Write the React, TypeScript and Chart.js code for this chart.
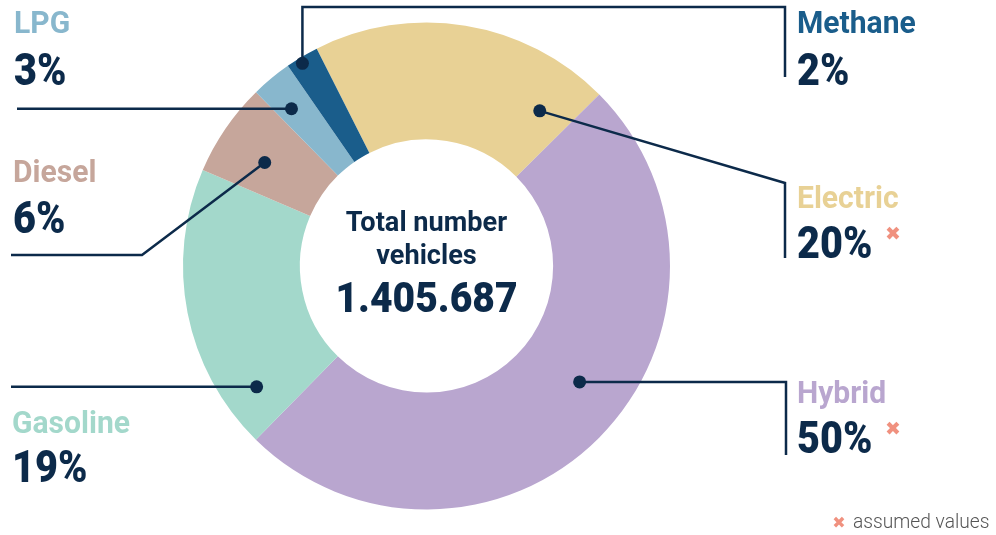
import React, { useEffect, useRef } from "react";
import { Chart, registerables } from "chart.js";

Chart.register(...registerables);

// ---- data ----
const categories = ["Electric", "Hybrid", "Gasoline", "Diesel", "LPG", "Methane"];
const shares = [20.0, 49.8, 19.1, 6.2, 2.7, 2.2];
const assumedFlags = [true, true, false, false, false, false];
const centerLines = ["Total number", "vehicles"];
const totalVehicles = "1.405.687";
const footnote = "assumed values";

// ---- styles ----
const sliceColors = ["#e8d195", "#b9a6cf", "#a3d8cb", "#c6a69b", "#88b7cd", "#1a5d8b"];
const navy = "#0c2a4a";
const starColor = "#f0917f";

// ---- callout layout (positions of labels / leader lines) ----
type Callout = {
  frac: number; rf: number;
  path: Array<[number | null, number | null]>;
  lx: number; nameBase: number; pctBase: number; star?: [number, number];
};
const callouts: Callout[] = [
  { frac: 0.874, rf: 0.56, path: [[785, 183], [785, 258]], lx: 797, nameBase: 208, pctBase: 258, star: [893, 233] },
  { frac: 0.457, rf: 0.56, path: [[786, null], [786, 455]], lx: 797, nameBase: 403, pctBase: 453, star: [893, 428] },
  { frac: 0.147, rf: 0.70, path: [[11, null]], lx: 12, nameBase: 433, pctBase: 482 },
  { frac: 0.42, rf: 0.56, path: [[142, 255], [11, 255]], lx: 13, nameBase: 182, pctBase: 233 },
  { frac: 0.39, rf: 0.69, path: [[17, null]], lx: 14, nameBase: 33, pctBase: 85 },
  { frac: 0.41, rf: 0.95, path: [[null, 7], [785, 7], [785, 77]], lx: 797, nameBase: 33, pctBase: 85 },
];

function drawText(ctx: CanvasRenderingContext2D, text: string, x: number, y: number, font: string, color: string, sx = 1, align: CanvasTextAlign = "left") {
  ctx.save();
  ctx.translate(x, y);
  ctx.scale(sx, 1);
  ctx.font = font;
  ctx.fillStyle = color;
  ctx.textAlign = align;
  ctx.textBaseline = "alphabetic";
  ctx.fillText(text, 0, 0);
  ctx.restore();
}

const calloutPlugin = {
  id: "callouts",
  afterDraw(chart: any) {
    const ctx: CanvasRenderingContext2D = chart.ctx;
    const meta = chart.getDatasetMeta(0);
    const total = shares.reduce((a, b) => a + b, 0);
    let cx = 0;
    meta.data.forEach((arc: any, i: number) => {
      const p = arc.getProps(["x", "y", "startAngle", "endAngle", "innerRadius", "outerRadius"], true);
      cx = p.x;
      const c = callouts[i];
      const ang = p.startAngle + c.frac * (p.endAngle - p.startAngle);
      const r = p.innerRadius + c.rf * (p.outerRadius - p.innerRadius);
      const dx = p.x + Math.cos(ang) * r;
      const dy = p.y + Math.sin(ang) * r;
      ctx.save();
      ctx.strokeStyle = navy;
      ctx.lineWidth = 2.5;
      ctx.lineJoin = "miter";
      ctx.beginPath();
      ctx.moveTo(dx, dy);
      for (const [wx, wy] of c.path) {
        ctx.lineTo(wx === null ? dx : wx, wy === null ? dy : wy);
      }
      ctx.stroke();
      ctx.fillStyle = navy;
      ctx.beginPath();
      ctx.arc(dx, dy, 6.5, 0, Math.PI * 2);
      ctx.fill();
      ctx.restore();

      drawText(ctx, categories[i], c.lx, c.nameBase, "bold 31px Roboto", sliceColors[i], 0.97);
      const pct = Math.round((shares[i] / total) * 100) + "%";
      drawText(ctx, pct, c.lx, c.pctBase, "900 44px Roboto", navy, 0.9);
      if (assumedFlags[i] && c.star) {
        drawText(ctx, "✖", c.star[0], c.star[1] + 7, "bold 19px 'DejaVu Sans'", starColor, 1, "center");
      }
    });

    drawText(ctx, centerLines[0], cx, 231, "bold 28px Roboto", navy, 0.97, "center");
    drawText(ctx, centerLines[1], cx, 264, "bold 28px Roboto", navy, 0.97, "center");
    drawText(ctx, totalVehicles, cx, 312, "900 42px Roboto", navy, 0.93, "center");

    drawText(ctx, "✖", 839, 528, "bold 16px 'DejaVu Sans'", starColor, 1, "center");
    drawText(ctx, footnote, 853, 528, "300 20px Roboto", "#555555", 0.96);
  },
};

export default function App() {
  const ref = useRef<HTMLCanvasElement | null>(null);
  useEffect(() => {
    if (!ref.current) return;
    const chart = new Chart(ref.current, {
      type: "doughnut",
      data: {
        labels: categories,
        datasets: [
          {
            data: shares,
            backgroundColor: sliceColors,
            borderWidth: 0,
          },
        ],
      },
      options: {
        responsive: false,
        animation: false,
        rotation: -26.8,
        cutout: "52%",
        layout: { padding: { left: 183, right: 326, top: 22, bottom: 25 } },
        plugins: { legend: { display: false }, tooltip: { enabled: false } },
      },
      plugins: [calloutPlugin],
    });
    return () => chart.destroy();
  }, []);
  return (
    <div style={{ position: "absolute", left: 0, top: 0, width: 996, height: 535, background: "#fff" }}>
      <canvas ref={ref} width={996} height={535} style={{ display: "block" }} />
    </div>
  );
}
